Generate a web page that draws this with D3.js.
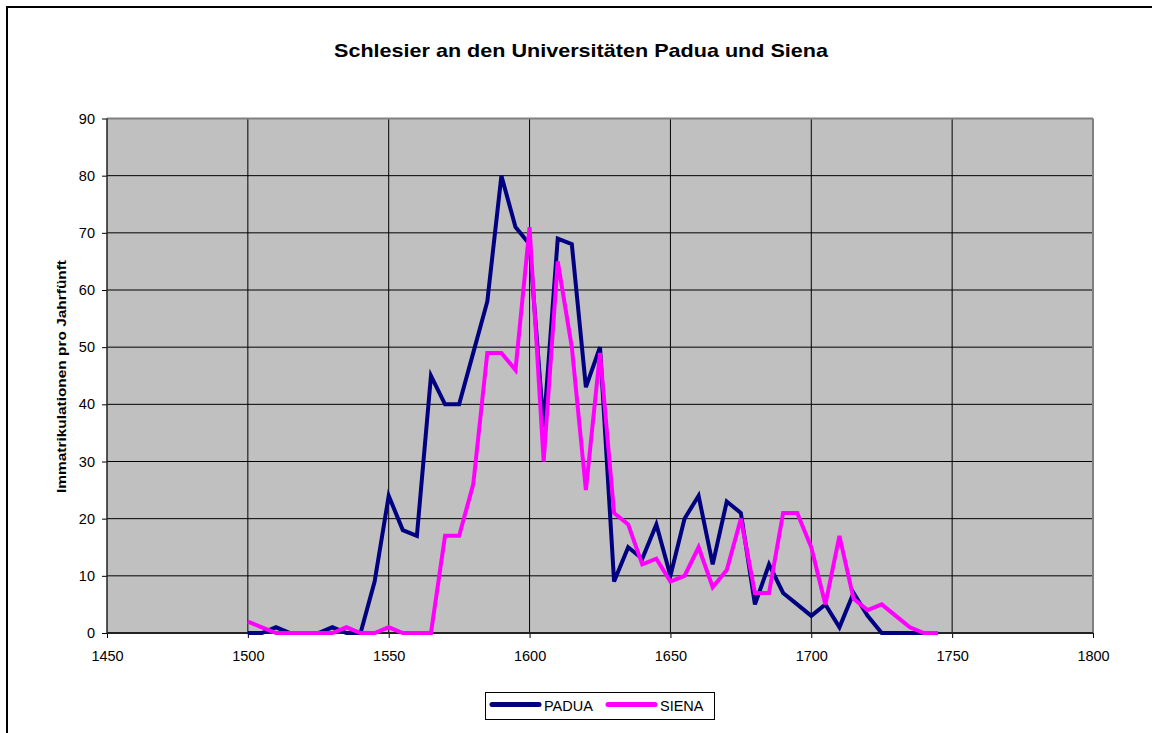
<!DOCTYPE html>
<html><head><meta charset="utf-8">
<script src="https://cdn.jsdelivr.net/npm/d3@7"></script>
<style>html,body{margin:0;padding:0;background:#fff;} svg{display:block;font-family:"Liberation Sans",Arial,sans-serif;}</style>
</head><body>
<script>
const years = d3.range(1500, 1750, 5);
const padua = [0,0,1,0,0,0,1,0,0,9,24,18,17,45,40,40,49,58,80,71,68,36,69,68,43,50,9,15,13,19,10,20,24,12,23,21,5,12,7,5,3,5,1,7,3,0,0,0,0,0];
const siena = [2,1,0,0,0,0,0,1,0,0,1,0,0,0,17,17,26,49,49,46,71,30,65,50,25,49,21,19,12,13,9,10,15,8,11,20,7,7,21,21,15,5,17,6,4,5,3,1,0,0];
const xTicks = [1450,1500,1550,1600,1650,1700,1750,1800];
const yTicks = [0,10,20,30,40,50,60,70,80,90];
const seriesNames = ["PADUA","SIENA"];
const colors = ["#000080","#FF00FF"];

const W = 1152, H = 733;
const svg = d3.select("body").append("svg").attr("width", W).attr("height", H);
const L = 107, R = 1093, T = 118.5, B = 633;
const x = d3.scaleLinear().domain([1450,1800]).range([L,R]);
const y = d3.scaleLinear().domain([0,90]).range([B,T]);

// outer frame (cropped on right/bottom)
svg.append("rect").attr("x",7).attr("y",7).attr("width",W+20).attr("height",H+20)
  .attr("fill","#fff").attr("stroke","#000").attr("stroke-width",2);

svg.append("text").attr("x",334).attr("y",57)
  .attr("font-size",19).attr("font-weight","bold")
  .attr("textLength",494).attr("lengthAdjust","spacingAndGlyphs")
  .text("Schlesier an den Universitäten Padua und Siena");

svg.append("rect").attr("x",L).attr("y",T).attr("width",R-L).attr("height",B-T).attr("fill","#C0C0C0");

const g = svg.append("g");
g.selectAll(".hg").data(yTicks.slice(1)).join("line")
  .attr("x1",L).attr("x2",R).attr("y1",d=>y(d)).attr("y2",d=>y(d)).attr("stroke","#000").attr("stroke-width",1);
g.selectAll(".vg").data(xTicks.slice(1,-1)).join("line")
  .attr("x1",d=>x(d)).attr("x2",d=>x(d)).attr("y1",T).attr("y2",B).attr("stroke","#000").attr("stroke-width",1);
svg.append("line").attr("x1",L).attr("x2",R).attr("y1",T).attr("y2",T).attr("stroke","#808080").attr("stroke-width",2);
svg.append("line").attr("x1",R).attr("x2",R).attr("y1",T).attr("y2",B).attr("stroke","#808080").attr("stroke-width",2);

const xAxis = d3.axisBottom(x).tickValues(xTicks).tickSize(5).tickPadding(13).tickFormat(d3.format("d"));
const yAxis = d3.axisLeft(y).tickValues(yTicks).tickSize(5).tickPadding(7);
const gx = svg.append("g").attr("transform",`translate(0,${B})`).call(xAxis);
const gy = svg.append("g").attr("transform",`translate(${L},0)`).call(yAxis);
[gx,gy].forEach(a=>{
  a.select(".domain").remove();
  a.selectAll("text").attr("font-size",14.5).attr("font-family","Liberation Sans, Arial, sans-serif").attr("fill","#000");
  a.selectAll("line").attr("stroke","#000");
});
svg.append("line").attr("x1",L).attr("x2",R).attr("y1",B).attr("y2",B).attr("stroke","#222").attr("stroke-width",2);
svg.append("line").attr("x1",L).attr("x2",L).attr("y1",T).attr("y2",B).attr("stroke","#222").attr("stroke-width",1.5);

svg.append("text").attr("transform","translate(66,493) rotate(-90)")
  .attr("font-size",13.5).attr("font-weight","bold")
  .attr("textLength",233).attr("lengthAdjust","spacingAndGlyphs")
  .text("Immatrikulationen pro Jahrfünft");

const line = d3.line().x(d=>x(d[0])).y(d=>y(d[1]));
[padua, siena].forEach((s,i)=>{
  svg.append("path").datum(years.map((yr,j)=>[yr,s[j]]))
    .attr("d",line).attr("fill","none").attr("stroke",colors[i]).attr("stroke-width",4)
    .attr("stroke-linejoin","miter").attr("stroke-linecap","butt");
});

const lg = svg.append("g");
lg.append("rect").attr("x",485.5).attr("y",692.5).attr("width",229).attr("height",27).attr("fill","#fff").attr("stroke","#000").attr("stroke-width",1);
const lx = [490, 606];
seriesNames.forEach((n,i)=>{
  lg.append("line").attr("x1",lx[i]+2).attr("x2",lx[i]+49).attr("y1",704.5).attr("y2",704.5)
    .attr("stroke",colors[i]).attr("stroke-width",5).attr("stroke-linecap","round");
  lg.append("text").attr("x",lx[i]+54).attr("y",711).attr("font-size",14.5).text(n);
});
</script>
</body></html>
